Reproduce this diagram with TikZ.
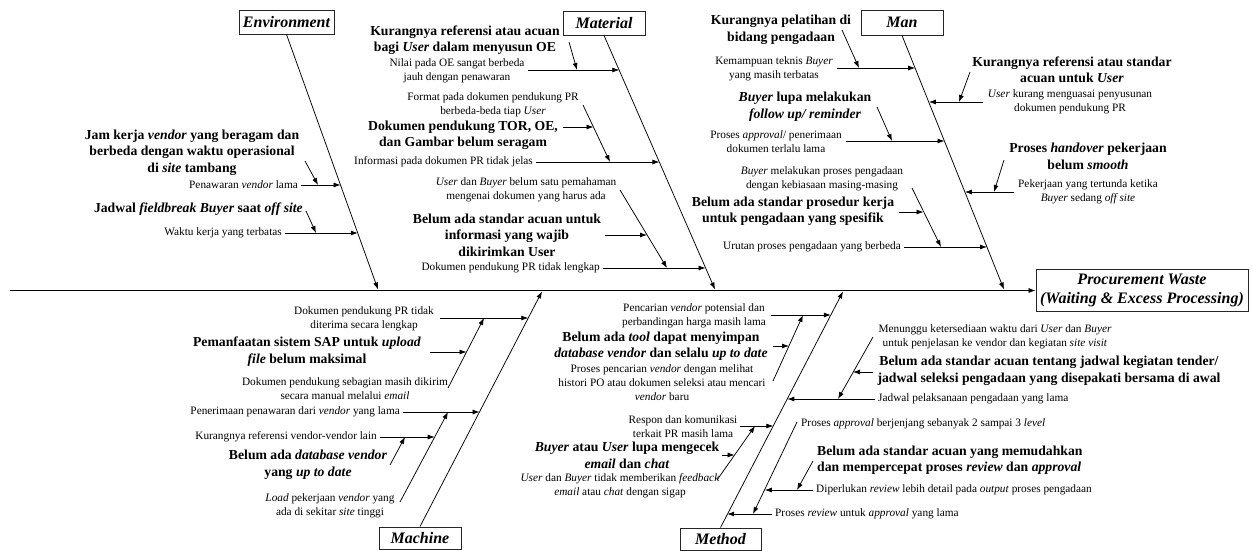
\documentclass[tikz,border=0pt]{standalone}
\usepackage{fontspec}
\setmainfont{Liberation Serif}
\usetikzlibrary{arrows.meta,shadows}
\begin{document}
\begin{tikzpicture}[x=1pt,y=-1pt,
  arr/.style={line width=0.75pt,-{Latex[length=7pt,width=5pt]}},
  catbox/.style={draw=black!85,fill=white,line width=0.9pt,inner sep=0pt,font=\fontsize{16}{19}\selectfont\bfseries\itshape,align=center,
    drop shadow={shadow xshift=1.2pt,shadow yshift=-1.2pt,fill=black!55,opacity=1}},
  bb/.style={inner sep=0pt,align=center,font=\fontsize{13.7}{16.5}\selectfont\bfseries},
  sm/.style={inner sep=0pt,align=center,font=\fontsize{11.3}{14}\selectfont}]
\useasboundingbox (0,0) rectangle (1252,551);
\fill[white] (0,0) rectangle (1252,551);

% category boxes and effect
\node[catbox,minimum width=95pt,minimum height=24pt] (env) at (286.5,22) {Environment};
\node[catbox,minimum width=82pt,minimum height=24pt] (mat) at (604,23) {Material};
\node[catbox,minimum width=82pt,minimum height=25pt] (man) at (902,22.5) {Man};
\node[catbox,minimum width=82pt,minimum height=22pt] (mac) at (420,538) {Machine};
\node[catbox,minimum width=81pt,minimum height=22pt] (met) at (720.5,539) {Method};
\node[catbox,minimum width=212pt,minimum height=42pt] (eff) at (1142,290) {Procurement Waste\\(Waiting \& Excess Processing)};

% spine and bones
\coordinate (s0) at (10,290.5);
\draw[arr] (s0) -- (eff.west |- s0);
\coordinate (envtip) at (378,289.5);
\coordinate (mattip) at (715,289.5);
\coordinate (mantip) at (1004,289.5);
\coordinate (mactip) at (542,291.5);
\coordinate (mettip) at (843,291.5);
\draw[arr] (env.south) -- (envtip);
\draw[arr] (mat.south) -- (mattip);
\draw[arr] (man.south) -- (mantip);
\draw[arr] (mac.north) -- (mactip);
\draw[arr] (met.north) -- (mettip);

% ---------------- Environment
\node[bb] (e1b) at (192,152.5) {Jam kerja \textit{vendor} yang beragam dan\\berbeda dengan waktu operasional\\di \textit{site} tambang};
\node[sm,anchor=east] (e1s) at (298,185) {Penawaran \textit{vendor} lama};
\coordinate (e1h) at (340.6,185);
\draw[arr] ([xshift=3pt]e1s.east) -- (e1h);
\coordinate (e1a) at (305,161); \coordinate (e1t) at (318,185);
\draw[arr] (e1a) -- (e1t);
\node[bb,anchor=east] (e2b) at (303,209) {Jadwal \textit{fieldbreak Buyer} saat \textit{off site}};
\node[sm,anchor=east] (e2s) at (282,233) {Waktu kerja yang terbatas};
\coordinate (e2h) at (357.8,233);
\draw[arr] ([xshift=3pt]e2s.east) -- (e2h);
\coordinate (e2a) at (306,211); \coordinate (e2t) at (316,233);
\draw[arr] (e2a) -- (e2t);

% ---------------- Material
\node[bb] (m1b) at (465,40) {Kurangnya referensi atau acuan\\bagi \textit{User} dalam menyusun OE};
\node[sm] (m1s) at (457,70.5) {Nilai pada OE sangat berbeda\\jauh dengan penawaran};
\coordinate (m1a) at (528,70); \coordinate (m1h) at (619.3,70);
\draw[arr] (m1a) -- (m1h);
\coordinate (m1d) at (569,42); \coordinate (m1t) at (577,70);
\draw[arr] (m1d) -- (m1t);

\node[sm] (m2s) at (493,105) {Format pada dokumen pendukung PR\\berbeda-beda tiap \textit{User}};
\node[bb] (m2b) at (463,135.5) {Dokumen pendukung TOR, OE,\\dan Gambar belum seragam};
\node[sm,anchor=east] (m2m) at (533,162) {Informasi pada dokumen PR tidak jelas};
\coordinate (m2h) at (659.4,162);
\draw[arr] ([xshift=3pt]m2m.east) -- (m2h);
\coordinate (m2d) at (583,105); \coordinate (m2t) at (610,162);
\draw[arr] (m2d) -- (m2t);
\coordinate (m2ba) at (563,127); \coordinate (m2bt) at (593.5,127);
\draw[arr] (m2ba) -- (m2bt);

\node[sm] (m3s) at (526,189.5) {\textit{User} dan \textit{Buyer} belum satu pemahaman\\mengenai dokumen yang harus ada};
\node[bb] (m3b) at (507,235) {Belum ada standar acuan untuk\\informasi yang wajib\\dikirimkan User};
\node[sm,anchor=east] (m3m) at (600,268) {Dokumen pendukung PR tidak lengkap};
\coordinate (m3h) at (705.6,268);
\draw[arr] ([xshift=3pt]m3m.east) -- (m3h);
\coordinate (m3d) at (620,190); \coordinate (m3t) at (667,268);
\draw[arr] (m3d) -- (m3t);
\coordinate (m3ba) at (605,235); \coordinate (m3bt) at (647,235);
\draw[arr] (m3ba) -- (m3bt);

% ---------------- Man (left)
\node[bb] (n1b) at (781,30) {Kurangnya pelatihan di\\bidang pengadaan};
\node[sm] (n1s) at (774,68.5) {Kemampuan teknis \textit{Buyer}\\yang masih terbatas};
\coordinate (n1a) at (837,68); \coordinate (n1h) at (915.2,68);
\draw[arr] (n1a) -- (n1h);
\coordinate (n1d) at (842,30); \coordinate (n1t) at (859,68);
\draw[arr] (n1d) -- (n1t);

\node[bb] (n2b) at (805,106.5) {\textit{Buyer} lupa melakukan\\\textit{follow up/ reminder}};
\node[sm] (n2s) at (776,141.5) {Proses \textit{approval}/ penerimaan\\dokumen terlalu lama};
\coordinate (n2a) at (846,141); \coordinate (n2h) at (944.5,141);
\draw[arr] (n2a) -- (n2h);
\coordinate (n2d) at (877,107); \coordinate (n2t) at (892,141);
\draw[arr] (n2d) -- (n2t);

\node[sm] (n3s) at (822,178.5) {\textit{Buyer} melakukan proses pengadaan\\dengan kebiasaan masing-masing};
\node[bb] (n3b) at (793,211.5) {Belum ada standar prosedur kerja\\untuk pengadaan yang spesifik};
\node[sm,anchor=east] (n3m) at (901,247) {Urutan proses pengadaan yang berbeda};
\coordinate (n3h) at (987,247);
\draw[arr] ([xshift=3pt]n3m.east) -- (n3h);
\coordinate (n3d) at (912,188); \coordinate (n3t) at (941,247);
\draw[arr] (n3d) -- (n3t);
\coordinate (n3ba) at (899,212); \coordinate (n3bt) at (923.5,212);
\draw[arr] (n3ba) -- (n3bt);

% ---------------- Man (right)
\node[bb] (n4b) at (1072,70) {Kurangnya referensi atau standar\\acuan untuk \textit{User}};
\node[sm] (n4s) at (1070,102) {\textit{User} kurang menguasai penyusunan\\dokumen pendukung PR};
\coordinate (n4a) at (983,102); \coordinate (n4h) at (928.9,102);
\draw[arr] (n4a) -- (n4h);
\coordinate (n4d) at (970,72); \coordinate (n4t) at (959,102);
\draw[arr] (n4d) -- (n4t);

\node[bb] (n5b) at (1088,156.5) {Proses \textit{handover} pekerjaan\\belum \textit{smooth}};
\node[sm] (n5s) at (1088,192) {Pekerjaan yang tertunda ketika\\\textit{Buyer} sedang \textit{off site}};
\coordinate (n5a) at (1014,192); \coordinate (n5h) at (964.9,192);
\draw[arr] (n5a) -- (n5h);
\coordinate (n5d) at (1004,160); \coordinate (n5t) at (994,192);
\draw[arr] (n5d) -- (n5t);

% ---------------- Machine
\node[sm] (k1s) at (364,319) {Dokumen pendukung PR tidak\\diterima secara lengkap};
\coordinate (k1a) at (440,318); \coordinate (k1h) at (528.3,318);
\draw[arr] (k1a) -- (k1h);
\node[sm] (k1d) at (345,389) {Dokumen pendukung sebagian masih dikirim\\secara manual melalui \textit{email}};
\coordinate (k1da) at (448,388); \coordinate (k1dt) at (484,318);
\draw[arr] (k1da) -- (k1dt);
\node[bb] (k1b) at (307,351.5) {Pemanfaatan sistem SAP untuk \textit{upload}\\\textit{file} belum maksimal};
\coordinate (k1ba) at (430,352); \coordinate (k1bt) at (466.5,352);
\draw[arr] (k1ba) -- (k1bt);

\node[sm,anchor=east] (k2s) at (400,412) {Penerimaan penawaran dari \textit{vendor} yang lama};
\coordinate (k2h) at (479.6,412);
\draw[arr] ([xshift=3pt]k2s.east) -- (k2h);
\node[sm] (k2d) at (330,506) {\textit{Load} pekerjaan \textit{vendor} yang\\ada di sekitar \textit{site} tinggi};
\coordinate (k2da) at (400,502); \coordinate (k2dt) at (448,412);
\draw[arr] (k2da) -- (k2dt);
\node[sm,anchor=east] (k3s) at (377,437) {Kurangnya referensi vendor-vendor lain};
\coordinate (k3h) at (434.7,437);
\draw[arr] ([xshift=3pt]k3s.east) -- (k3h);
\node[bb] (k3b) at (308,465) {Belum ada \textit{database vendor}\\yang \textit{up to date}};
\coordinate (k3da) at (390,465); \coordinate (k3dt) at (405,437);
\draw[arr] (k3da) -- (k3dt);

% ---------------- Method (left)
\node[sm] (t1s) at (694,316) {Pencarian \textit{vendor} potensial dan\\perbandingan harga masih lama};
\coordinate (t1a) at (771,315); \coordinate (t1h) at (830.8,315);
\draw[arr] (t1a) -- (t1h);
\node[sm] (t1d) at (662,382.5) {Proses pencarian \textit{vendor} dengan melihat\\histori PO atau dokumen seleksi atau mencari\\\textit{vendor} baru};
\coordinate (t1da) at (773,381); \coordinate (t1dt) at (803,315);
\draw[arr] (t1da) -- (t1dt);
\node[bb] (t1b) at (661,346) {Belum ada \textit{tool} dapat menyimpan\\\textit{database vendor} dan selalu \textit{up to date}};
\coordinate (t1ba) at (773,346); \coordinate (t1bt) at (789,346);
\draw[arr] (t1ba) -- (t1bt);

\node[sm] (t2s) at (683,427) {Respon dan komunikasi\\terkait PR masih lama};
\coordinate (t2a) at (740,426); \coordinate (t2h) at (773.3,426);
\draw[arr] (t2a) -- (t2h);
\node[sm] (t2d) at (620,485.5) {\textit{User} dan \textit{Buyer} tidak memberikan \textit{feedback}\\\textit{email} atau \textit{chat} dengan sigap};
\coordinate (t2da) at (717,480); \coordinate (t2dt) at (755,426);
\draw[arr] (t2da) -- (t2dt);
\node[bb] (t2b) at (627,455.5) {\textit{Buyer} atau \textit{User} lupa mengecek\\\textit{email} dan \textit{chat}};
\coordinate (t2ba) at (722,455); \coordinate (t2bt) at (734.6,455);
\draw[arr] (t2ba) -- (t2bt);

% ---------------- Method (right)
\node[sm] (t3s) at (995,337) {Menunggu ketersediaan waktu dari \textit{User} dan \textit{Buyer}\\untuk penjelasan ke vendor dan kegiatan \textit{site visit}};
\node[bb] (t3b) at (1049,371) {Belum ada standar acuan tentang jadwal kegiatan tender/\\jadwal seleksi pengadaan yang disepakati bersama di awal};
\node[sm,anchor=west] (t3m) at (878,399) {Jadwal pelaksanaan pengadaan yang lama};
\coordinate (t3h) at (787.3,399);
\draw[arr] ([xshift=-3pt]t3m.west) -- (t3h);
\coordinate (t3da) at (873,337); \coordinate (t3dt) at (838,399);
\draw[arr] (t3da) -- (t3dt);
\coordinate (t3ba) at (873,372); \coordinate (t3bt) at (853,372);
\draw[arr] (t3ba) -- (t3bt);

\node[sm,anchor=west] (t4s) at (801,424) {Proses \textit{approval} berjenjang sebanyak 2 sampai 3 \textit{level}};
\node[sm,anchor=west] (t4m) at (775,514) {Proses \textit{review} untuk \textit{approval} yang lama};
\coordinate (t4h) at (727.2,514);
\draw[arr] ([xshift=-3pt]t4m.west) -- (t4h);
\coordinate (t4da) at (797,422); \coordinate (t4dt) at (753,514);
\draw[arr] (t4da) -- (t4dt);
\node[bb,anchor=west,align=left] (t4b) at (817,460) {Belum ada standar acuan yang memudahkan\\dan mempercepat proses \textit{review} dan \textit{approval}};
\node[sm,anchor=west] (t4n) at (816,490) {Diperlukan \textit{review} lebih detail pada \textit{output} proses pengadaan};
\coordinate (t4nh) at (764.8,490);
\draw[arr] ([xshift=-3pt]t4n.west) -- (t4nh);
\coordinate (t4ba) at (813,461); \coordinate (t4bt) at (797,490);
\draw[arr] (t4ba) -- (t4bt);
\end{tikzpicture}
\end{document}
